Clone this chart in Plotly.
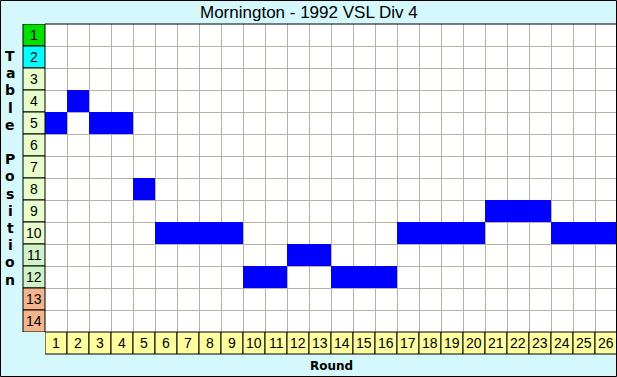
import plotly.graph_objects as go

# ---- data ----
rounds = list(range(1, 27))
positions = [5, 4, 5, 5, 8, 10, 10, 10, 10, 12, 12, 11, 11, 12, 12, 12,
             10, 10, 10, 10, 9, 9, 9, 10, 10, 10]
y_labels = [str(i) for i in range(1, 15)]
x_labels = [str(r) for r in rounds]
row_colors = ["#00E000", "#00FFFF"] + ["#E8FCCC"] * 8 + ["#D0F2C8"] * 2 + ["#F4B48C"] * 2
title_text = "Mornington - 1992 VSL Div 4"
y_title = "Table Position"
x_title = "Round"

# ---- geometry ----
W, H = 617, 377
L, R, T, B = 45, 0, 24, 45
PW = W - L - R
PH = H - T - B


def px_x(px):
    return (px - L) / PW


def px_y(py):
    return (H - B - py) / PH


BG = "#D4F8FC"
GRID = "#B8B2A6"

fig = go.Figure(go.Bar(
    x=rounds,
    y=[1] * len(rounds),
    base=[p - 0.5 for p in positions],
    width=1,
    marker=dict(color="#0000FF", line=dict(width=0)),
    hoverinfo="skip",
))

shapes = []
annotations = []

# y label cells
for i, (lab, col) in enumerate(zip(y_labels, row_colors), start=1):
    shapes.append(dict(type="rect", xref="paper", yref="y",
                       x0=px_x(23), x1=0, y0=i - 0.5, y1=i + 0.5,
                       fillcolor=col, line=dict(color="black", width=1)))
    annotations.append(dict(xref="paper", yref="y", x=px_x(34), y=i, text=lab,
                            showarrow=False, xanchor="center", yanchor="middle",
                            font=dict(family="Liberation Sans", size=14, color="black")))

# x label cells
for r, lab in zip(rounds, x_labels):
    shapes.append(dict(type="rect", xref="x", yref="paper",
                       x0=r - 0.5, x1=r + 0.5, y0=px_y(354), y1=0,
                       fillcolor="#FFFFA0", line=dict(color="black", width=1)))
    annotations.append(dict(xref="x", yref="paper", x=r, y=px_y(343), text=lab,
                            showarrow=False, xanchor="center", yanchor="middle",
                            font=dict(family="Liberation Sans", size=14, color="black")))

# plot top border
shapes.append(dict(type="line", xref="paper", yref="paper", x0=0, x1=1, y0=1, y1=1,
                   line=dict(color="black", width=1)))
# outer frame
shapes.append(dict(type="rect", xref="paper", yref="paper",
                   x0=px_x(0.5), x1=px_x(616.5), y0=px_y(376.5), y1=px_y(0.5),
                   line=dict(color="black", width=1), fillcolor="rgba(0,0,0,0)"))

# vertical y-axis title letters
for k, ch in enumerate(y_title):
    if ch == " ":
        continue
    annotations.append(dict(xref="paper", yref="paper", x=px_x(10), y=px_y(56 + k * 17.2),
                            text=ch, showarrow=False, xanchor="center", yanchor="middle",
                            font=dict(family="DejaVu Sans", size=14, color="black", weight="bold")))

annotations.append(dict(xref="paper", yref="paper", x=px_x(331), y=px_y(366), text=x_title,
                        showarrow=False, xanchor="center", yanchor="middle",
                        font=dict(family="DejaVu Sans", size=12, color="black", weight="bold")))

annotations.append(dict(xref="paper", yref="paper", x=px_x(309), y=px_y(12), text=title_text,
                        showarrow=False, xanchor="center", yanchor="middle",
                        font=dict(family="Liberation Sans", size=17, color="black")))

fig.update_layout(
    width=W, height=H,
    margin=dict(l=L, r=R, t=T, b=B, pad=0),
    paper_bgcolor=BG, plot_bgcolor="white",
    showlegend=False, bargap=0,
    shapes=shapes, annotations=annotations,
    xaxis=dict(range=[0.5, 26.5], tickvals=[i + 0.5 for i in range(27)],
               showticklabels=False, showgrid=True, gridcolor=GRID, gridwidth=1,
               zeroline=False, ticks="", showline=False, fixedrange=True),
    yaxis=dict(range=[14.5, 0.5], tickvals=[i + 0.5 for i in range(15)],
               showticklabels=False, showgrid=True, gridcolor=GRID, gridwidth=1,
               zeroline=False, ticks="", showline=False, fixedrange=True),
)

fig.write_html("out.html", config={"displayModeBar": False},
               post_script="document.body.style.margin='0';document.body.style.overflow='hidden';")
